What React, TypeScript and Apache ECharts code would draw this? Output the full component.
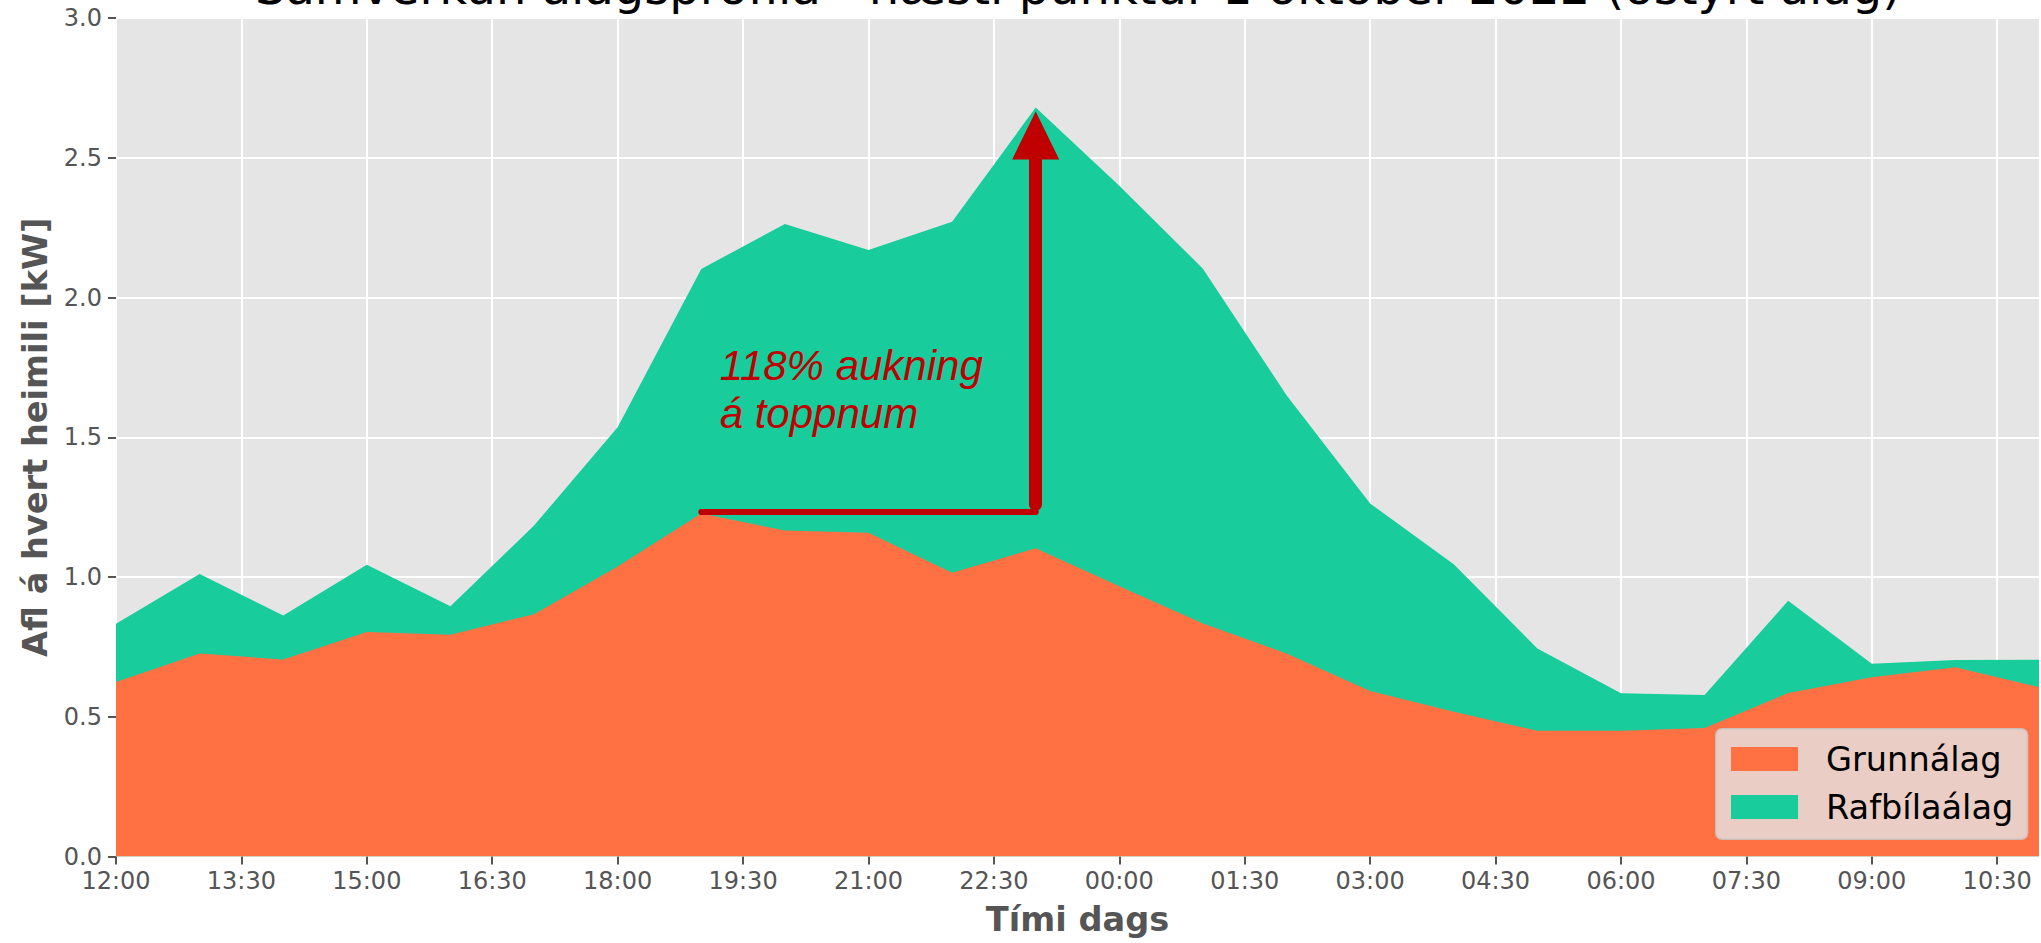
import React, { useEffect, useRef } from "react";
import * as echarts from "echarts";

// Hourly time points (12:00 -> 11:00 next day), x index = hours after 12:00
const hours = [
  "12:00", "13:00", "14:00", "15:00", "16:00", "17:00", "18:00", "19:00",
  "20:00", "21:00", "22:00", "23:00", "00:00", "01:00", "02:00", "03:00",
  "04:00", "05:00", "06:00", "07:00", "08:00", "09:00", "10:00", "11:00",
];

// Base load (Grunnálag), kW per household
const grunnalag = [
  0.624, 0.726, 0.705, 0.803, 0.793, 0.867, 1.038, 1.227,
  1.166, 1.158, 1.015, 1.103, 0.967, 0.834, 0.726, 0.592,
  0.518, 0.45, 0.45, 0.46, 0.585, 0.641, 0.677, 0.606,
];

// EV load (Rafbílaálag), stacked on top of base load
const rafbilaalag = [
  0.209, 0.285, 0.157, 0.241, 0.102, 0.317, 0.498, 0.875,
  1.097, 1.012, 1.256, 1.577, 1.433, 1.269, 0.924, 0.671,
  0.528, 0.294, 0.134, 0.118, 0.33, 0.049, 0.026, 0.098,
];

// x tick labels every 1.5 h
const xTickLabels = [
  "12:00", "13:30", "15:00", "16:30", "18:00", "19:30", "21:00", "22:30",
  "00:00", "01:30", "03:00", "04:30", "06:00", "07:30", "09:00", "10:30",
];
const xTickValues = xTickLabels.map((_, i) => i * 1.5);

// Annotation: base peak level and total peak
const lineStart = hours.indexOf("19:00");
const peakHour = hours.indexOf("23:00");
const basePeakLevel = 1.232;
const arrowFrom = 1.26;
const arrowTo = 2.58;
const annotationText = "118% aukning\ná toppnum";
const annotationPos = [7.22, 1.67];

const title = "Samverkun álagsprófíla - hæsti punktur 1 október 2022 (óstýrt álag)";

const ORANGE = "#ff7043";
const GREEN = "#18cc9c";
const RED = "#c00000";
const GREY = "#555555";
const FONT = "DejaVu Sans";

export default function App() {
  const ref = useRef<HTMLDivElement>(null);

  useEffect(() => {
    if (!ref.current) return;
    const chart = echarts.init(ref.current, undefined, { renderer: "svg" });
    const baseData = grunnalag.map((v, i) => [i, v]);
    // stacked top of the EV layer = base + EV
    const totalData = rafbilaalag.map((v, i) => [i, +(v + grunnalag[i]).toFixed(4)]);

    chart.setOption({
      animation: false,
      backgroundColor: "#ffffff",
      textStyle: { fontFamily: FONT },
      graphic: [
        {
          type: "text",
          x: 1078,
          y: -13,
          style: {
            text: title,
            fontFamily: FONT,
            fontSize: 48,
            fill: "#000000",
            align: "center",
            verticalAlign: "middle",
          },
        },
      ],
      grid: {
        left: 116,
        top: 18,
        right: 2,
        bottom: 86.5,
        show: true,
        backgroundColor: "#e5e5e5",
        borderWidth: 0,
      },
      legend: {
        orient: "vertical",
        left: 1716,
        top: 729,
        padding: [10, 14, 12, 15],
        itemGap: 8,
        itemWidth: 67,
        itemHeight: 24,
        icon: "rect",
        backgroundColor: "rgba(229,229,229,0.8)",
        borderColor: "rgba(204,204,204,0.8)",
        borderWidth: 2,
        borderRadius: 6,
        textStyle: {
          fontFamily: FONT,
          fontSize: 33.6,
          color: "#000000",
          lineHeight: 40,
          padding: [0, 0, 0, 23],
        },
        data: ["Grunnálag", "Rafbílaálag"],
      },
      xAxis: {
        type: "value",
        min: 0,
        max: 23,
        interval: 1.5,
        name: "Tími dags",
        nameLocation: "middle",
        nameGap: 46,
        nameTextStyle: {
          fontFamily: FONT,
          fontSize: 33.6,
          fontWeight: "bold",
          color: GREY,
        },
        axisLine: { show: false },
        axisTick: {
          show: true,
          length: 8,
          customValues: xTickValues,
          lineStyle: { color: GREY, width: 2 },
        },
        axisLabel: {
          customValues: xTickValues,
          fontFamily: FONT,
          fontSize: 24,
          color: GREY,
          margin: 12,
          formatter: (v: number) => {
            const idx = Math.round(v / 1.5);
            return Math.abs(idx * 1.5 - v) < 1e-6 && idx < xTickLabels.length
              ? xTickLabels[idx]
              : "";
          },
        },
        splitLine: {
          show: true,
          lineStyle: { color: "#ffffff", width: 2 },
        },
      },
      yAxis: {
        type: "value",
        min: 0,
        max: 3,
        interval: 0.5,
        name: "Afl á hvert heimili [kW]",
        nameLocation: "middle",
        nameGap: 63,
        nameTextStyle: {
          fontFamily: FONT,
          fontSize: 33.6,
          fontWeight: "bold",
          color: GREY,
        },
        axisLine: { show: false },
        axisTick: {
          show: true,
          length: 8,
          lineStyle: { color: GREY, width: 2 },
        },
        axisLabel: {
          fontFamily: FONT,
          fontSize: 24,
          color: GREY,
          margin: 14,
          formatter: (v: number) => v.toFixed(1),
        },
        splitLine: {
          show: true,
          lineStyle: { color: "#ffffff", width: 2 },
        },
      },
      series: [
        {
          name: "Grunnálag",
          type: "line",
          data: baseData,
          showSymbol: false,
          symbol: "none",
          color: ORANGE,
          lineStyle: { width: 0, color: ORANGE },
          areaStyle: { color: ORANGE, opacity: 1 },
          z: 3,
        },
        {
          name: "Rafbílaálag",
          type: "line",
          data: totalData,
          showSymbol: false,
          symbol: "none",
          color: GREEN,
          lineStyle: { width: 0, color: GREEN },
          areaStyle: { color: GREEN, opacity: 1 },
          z: 2,
        },
        {
          name: "annotation",
          type: "line",
          data: [],
          z: 5,
          markLine: {
            silent: true,
            animation: false,
            label: { show: false },
            emphasis: { disabled: true },
            data: [
              [
                {
                  coord: [lineStart, basePeakLevel],
                  symbol: "none",
                  lineStyle: { color: RED, width: 6, type: "solid", cap: "round" },
                },
                { coord: [peakHour, basePeakLevel], symbol: "none" },
              ],
              [
                {
                  coord: [peakHour, arrowFrom],
                  symbol: "none",
                  lineStyle: { color: RED, width: 13, type: "solid", cap: "round" },
                },
                {
                  coord: [peakHour, arrowTo],
                  symbol: "triangle",
                  symbolSize: [47, 48],
                },
              ],
            ],
          },
          markPoint: {
            silent: true,
            animation: false,
            data: [
              {
                coord: annotationPos,
                symbol: "circle",
                symbolSize: 0,
                itemStyle: { color: "rgba(0,0,0,0)" },
                label: {
                  show: true,
                  position: "right",
                  distance: 0,
                  formatter: annotationText,
                  fontFamily: "Liberation Sans",
                  fontStyle: "italic",
                  fontSize: 42,
                  lineHeight: 48,
                  color: RED,
                  align: "left",
                },
              },
            ],
          },
        },
      ],
    });

    return () => {
      chart.dispose();
    };
  }, []);

  return (
    <div
      ref={ref}
      style={{ position: "fixed", left: 0, top: 0, width: "2041px", height: "943px" }}
    />
  );
}
